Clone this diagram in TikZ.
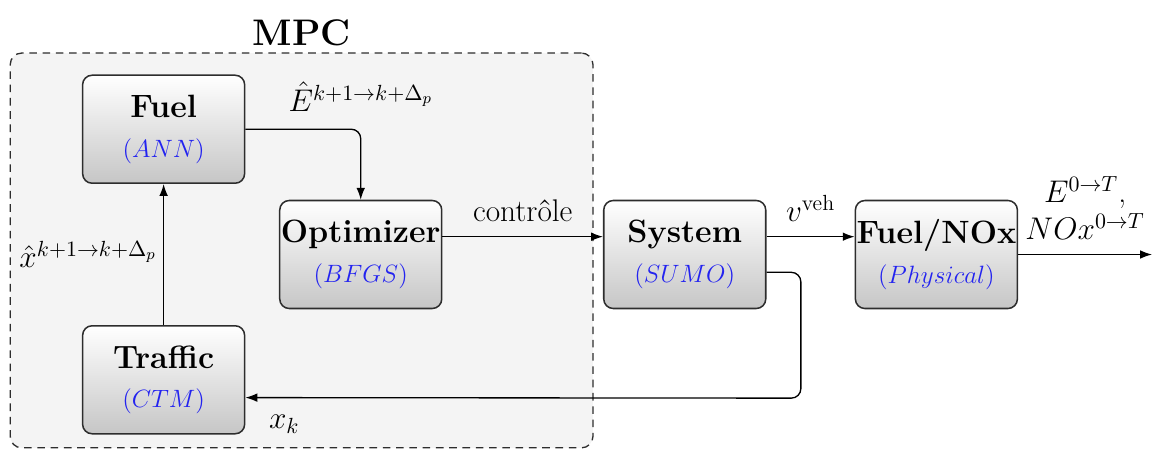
\RequirePackage{fix-cm}
\documentclass[tikz,border=0pt]{standalone}
\usepackage{fontspec}
\usepackage{amsmath}
\usepackage{tikz}
\usetikzlibrary{arrows.meta, positioning}
\definecolor{mydark}{RGB}{45,45,45}
\definecolor{myblue}{RGB}{35,35,240}
\definecolor{myshade}{RGB}{198,198,198}
\definecolor{mympc}{RGB}{244,244,244}
\tikzset{
  block/.style={rectangle, draw=mydark, top color=white, bottom color=myshade,
    minimum width=3cm, minimum height=2cm, align=center,
    font=\fontsize{17}{20}\selectfont, rounded corners=5pt, line width=0.8pt},
  mpcbox/.style={rectangle, draw=mydark, fill=mympc, dash pattern=on 4pt off 3pt,
    rounded corners=6pt, line width=0.7pt},
  arrow/.style={-{Latex[length=2.2mm, width=1.6mm]}, line width=0.7pt,
    color=black, rounded corners=5pt},
  lbl/.style={font=\fontsize{16.5}{19.5}\selectfont}
}
\newcommand{\blocktitle}[1]{\makebox[0pt]{\textbf{#1}}}
\newcommand{\sublbl}[1]{{\fontsize{13.2}{16}\selectfont\color{myblue}$(#1)$}}

\begin{document}
\begin{tikzpicture}
  \useasboundingbox (0,0) rectangle (21.333,8.333);

  % MPC frame (behind the blocks)
  \node[mpcbox, minimum width=10.79cm, minimum height=7.31cm] (mpc) at (5.585,3.695) {};
  \node[above=0pt of mpc.north, font=\fontsize{19.5}{23}\selectfont\bfseries] (mpctitle) {MPC};

  % Blocks inside MPC
  \node[block] (fuel) at (3.03,5.94) {\blocktitle{Fuel}\\[1pt]\sublbl{ANN}};
  \node[block] (opt) at (6.68,3.62) {\blocktitle{Optimizer}\\[1pt]\sublbl{BFGS}};
  \node[block] (traffic) at (3.03,1.30) {\blocktitle{Traffic}\\[1pt]\sublbl{CTM}};

  % Plant side
  \node[block] (sys) at (12.68,3.62) {\blocktitle{System}\\[1pt]\sublbl{SUMO}};
  \node[block] (nox) at (17.34,3.62) {\blocktitle{Fuel/NOx}\\[1pt]\sublbl{Physical}};

  \coordinate (out) at (21.333,3.62);
  \coordinate (fbk) at (14.83,0.96);

  % Connections
  \draw[arrow] (fuel.east) -| node[pos=0.5, above=0.2cm, lbl] (lblE) {$\hat{E}^{k+1\to k+\Delta_p}$} (opt.north);
  \draw[arrow] (traffic.north) -- node[midway, left=0pt, lbl] (lblx) {$\hat{x}^{k+1\to k+\Delta_p}$} (fuel.south);
  \draw[arrow] ([yshift=0.33cm]opt.east) -- node[midway, above=0.15cm, lbl] (lblctrl) {contrôle} ([yshift=0.33cm]sys.west);
  \draw[arrow] ([yshift=0.33cm]sys.east) -- node[midway, above=0.15cm, lbl] (lblv) {$v^{\text{veh}}$} ([yshift=0.33cm]nox.west);
  \draw[arrow] (nox.east) -- node[midway, above=0.15cm, lbl, align=center] (lblout) {$E^{0\to T}$,\\$NOx^{0\to T}$} (out);
  \draw[arrow] ([yshift=-0.33cm]sys.east) -| (fbk) -- node[pos=0.93, below=0.2cm, lbl] (lblxk) {$x_k$} ([yshift=-0.33cm]traffic.east);
\end{tikzpicture}
\end{document}
